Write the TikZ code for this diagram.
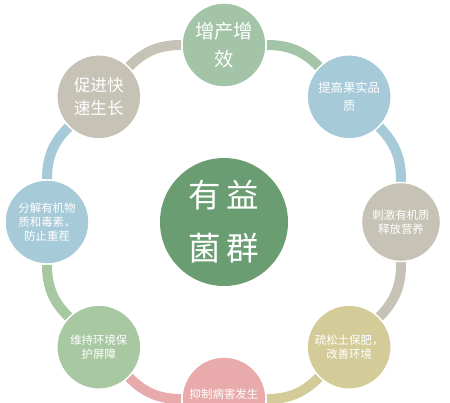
\documentclass[tikz,border=0pt]{standalone}
\usepackage{xcolor}
\usepackage{tikz}
\usepackage{fontspec}
\usetikzlibrary{backgrounds}
\newfontfamily\cjk{Noto Sans CJK SC}

\definecolor{sagegreen}{RGB}{163,196,166}
\definecolor{paleblue}{RGB}{166,202,216}
\definecolor{stonegray}{RGB}{198,194,181}
\definecolor{khaki}{RGB}{211,203,152}
\definecolor{rosepink}{RGB}{232,170,170}
\definecolor{leafgreen}{RGB}{168,200,162}
\definecolor{deepgreen}{RGB}{106,158,114}

\tikzset{
  bubble/.style={circle, minimum size=1.68cm, inner sep=0pt, draw=white,
    line width=0.8pt, text=white, align=center, font=\cjk\fontsize{6.5}{8}\selectfont},
  link/.style={line width=0.2cm, draw=#1},
}

\begin{document}
\begin{tikzpicture}
    \useasboundingbox (0, 0) rectangle (9, 8.04);
    \clip (0, 0) rectangle (9, 8.04);

    % centre of the ring
    \node[circle, minimum size=2.56cm, fill=deepgreen, inner sep=0pt, text=white,
      align=center, font=\cjk\fontsize{18.5}{30}\selectfont] (core) at (4.48, 3.6)
      {有\,益\\菌\,群};

    \node[bubble, fill=sagegreen, font=\cjk\fontsize{11}{16}\selectfont] (yield) at (4.48, 7.14) {增产增\\效};
    \node[bubble, fill=paleblue, font=\cjk\fontsize{7}{10}\selectfont] (quality) at ({4.48+3.54*cos(45)}, {3.6+3.54*sin(45)}) {提高果实品\\质};
    \node[bubble, fill=stonegray, minimum size=1.58cm] (release) at (8.02, 3.6) {刺激有机质\\释放营养};
    \node[bubble, fill=khaki] (soil) at ({4.48+3.54*cos(45)}, {3.6-3.54*sin(45)}) {疏松土保肥，\\改善环境};
    \node[bubble, fill=rosepink] (disease) at (4.48, 0.06) {};
    \node[bubble, fill=leafgreen] (barrier) at ({4.48-3.54*cos(45)}, {3.6-3.54*sin(45)}) {维持环境保\\护屏障};
    \node[bubble, fill=paleblue] (toxin) at (0.94, 3.6) {分解有机物\\质和毒素，\\防止重茬};
    \node[bubble, fill=stonegray, font=\cjk\fontsize{9.5}{13}\selectfont] (growth) at ({4.48-3.54*cos(45)}, {3.6+3.54*sin(45)}) {促进快\\速生长};

    \node[text=white, inner sep=0pt, font=\cjk\fontsize{6.5}{8}\selectfont, anchor=south] (disease-text) at (4.48, 0.04) {抑制病害发生};

    % ring links, each in the colour of the circle it leaves
    \begin{scope}[on background layer]
        \draw[link=sagegreen] (yield) to[bend left=22.5] (quality);
        \draw[link=paleblue] (quality) to[bend left=22.5] (release);
        \draw[link=stonegray] (release) to[bend left=22.5] (soil);
        \draw[link=khaki] (soil) to[bend left=22.5] (disease);
        \draw[link=rosepink] (disease) to[bend left=22.5] (barrier);
        \draw[link=leafgreen] (barrier) to[bend left=22.5] (toxin);
        \draw[link=paleblue] (toxin) to[bend left=22.5] (growth);
        \draw[link=stonegray] (growth) to[bend left=22.5] (yield);
    \end{scope}
\end{tikzpicture}
\end{document}
